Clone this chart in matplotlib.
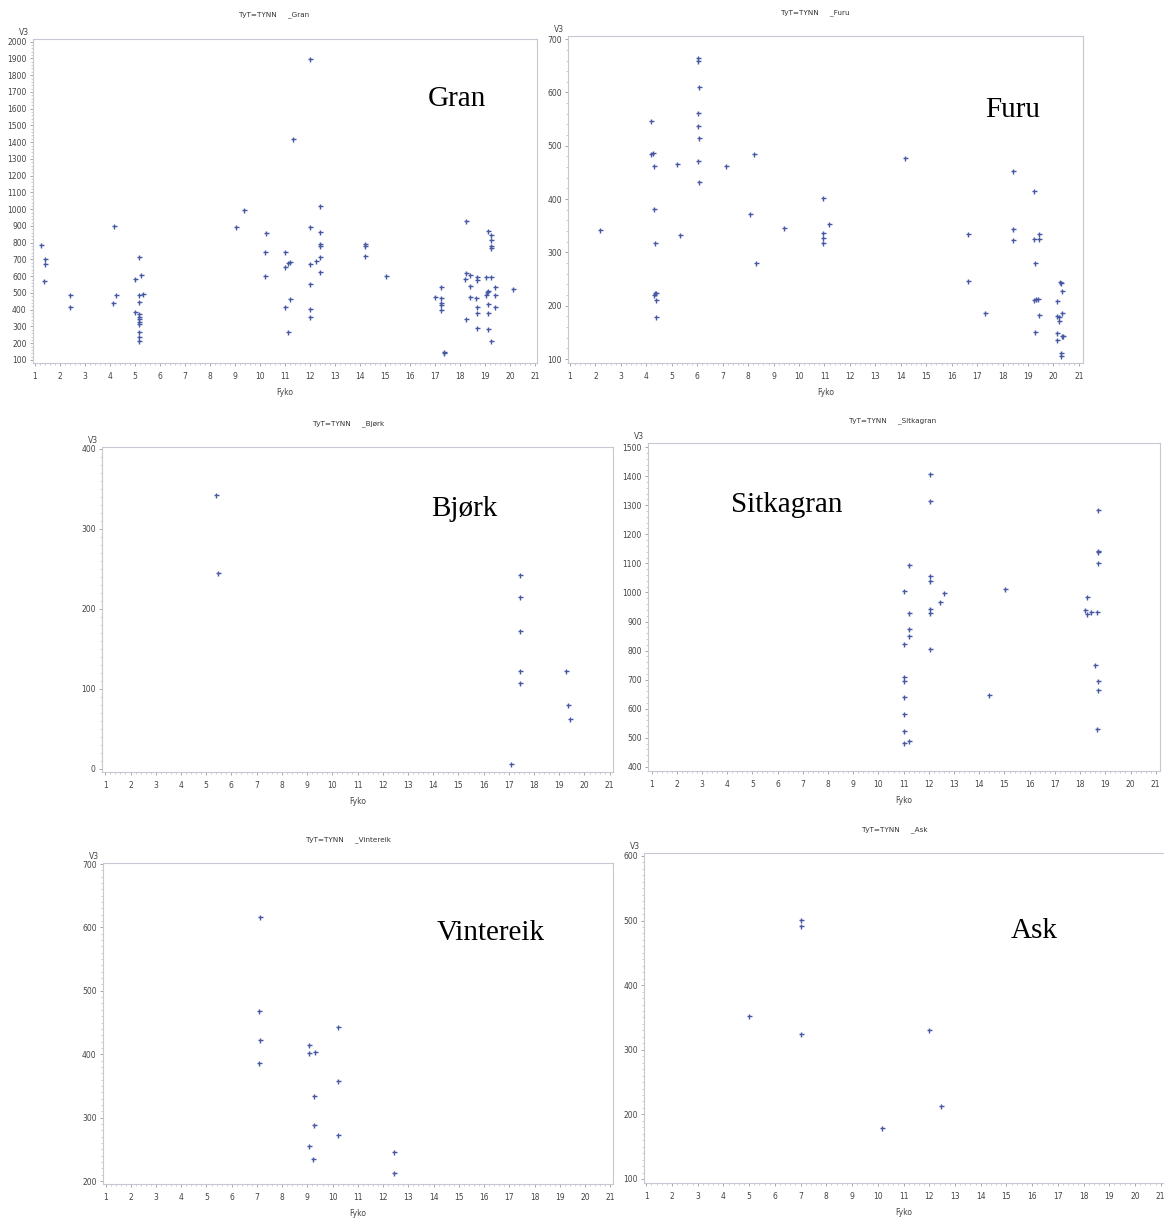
import matplotlib
matplotlib.use('Agg')
from matplotlib import pyplot as plt
from matplotlib.ticker import MultipleLocator

W, H = 1168, 1220
MARK = '#4658a4'
GREY = '#444444'

# --- data (Fyko, V3) ---
gran_x = [1.25, 1.4, 1.4, 1.37, 2.4, 2.4, 4.15, 4.23, 4.14,
          5.18, 5.0, 5.24, 5.33, 5.16, 5.16, 5.0, 5.16, 5.16, 5.16, 5.16, 5.16, 5.16, 5.16, 5.16,
          9.06, 9.37, 10.19, 10.19, 10.26,
          11.0, 11.0, 11.12, 11.19, 11.0, 11.19, 11.12, 11.34,
          12.0, 12.0, 12.0, 12.23, 12.0, 12.0, 12.0,
          12.42, 12.42, 12.42, 12.42, 12.42, 12.42,
          14.21, 14.21, 14.21, 15.04,
          17.01, 17.24, 17.24, 17.24, 17.24, 17.24, 17.36, 17.36,
          18.26, 18.23, 18.2, 18.41, 18.41, 18.41, 18.23, 18.66, 18.69, 18.69, 18.7, 18.7, 18.7,
          19.05, 19.24, 19.14, 19.25, 19.24, 19.24, 19.24, 19.04, 19.1, 19.14, 19.14, 19.14,
          19.14, 19.24, 19.4, 19.4, 19.4, 20.13]
gran_y = [785, 700, 675, 571, 490, 418, 900, 490, 438,
          715, 581, 609, 492, 486, 448, 388, 375, 359, 343, 329, 315, 269, 235, 215,
          892, 997, 742, 599, 860,
          747, 653, 681, 687, 414, 466, 269, 1419,
          1899, 896, 671, 691, 552, 404, 357,
          1021, 866, 792, 782, 717, 623,
          790, 780, 719, 599,
          474, 534, 472, 438, 426, 400, 148, 140,
          932, 617, 585, 605, 542, 476, 345, 472, 593, 577, 414, 378, 293,
          597, 597, 872, 846, 816, 782, 766, 488, 504, 512, 432, 383,
          283, 215, 538, 488, 416, 522]

furu_x = [2.18, 4.19, 4.19, 4.27, 4.3, 4.3, 4.33, 4.33, 4.39, 4.3, 4.39, 4.39,
          5.21, 5.33, 6.03, 6.03, 6.06, 6.03, 6.03, 6.06, 6.03, 6.06,
          7.13, 8.22, 8.07, 8.31, 9.39, 10.96, 11.19, 10.96, 10.96, 10.96,
          14.18, 16.63, 16.63, 17.3, 18.39, 18.39, 18.39,
          19.25, 19.22, 19.44, 19.44, 19.26, 19.22, 19.31, 19.38, 19.43, 19.26,
          20.25, 20.3, 20.34, 20.15, 20.15, 20.22, 20.2, 20.34, 20.15, 20.33, 20.38, 20.15, 20.28, 20.28]
furu_y = [342, 546, 485, 487, 463, 381, 317, 224, 224, 221, 210, 178,
          466, 332, 664, 659, 611, 562, 537, 515, 472, 432,
          463, 484, 372, 281, 346, 403, 353, 336, 327, 317,
          477, 335, 246, 187, 452, 344, 324,
          416, 325, 325, 334, 281, 211, 213, 212, 182, 150,
          244, 243, 228, 209, 180, 179, 172, 187, 149, 144, 144, 135, 112, 105]

bjork_x = [5.4, 5.47, 17.46, 17.43, 17.46, 17.43, 17.46, 17.09, 19.27, 19.36, 19.41]
bjork_y = [343, 245, 243, 215, 172, 123, 107, 6, 123, 80, 63]

sitka_x = [11.01, 11.01, 11.01, 11.01, 11.01, 11.01, 11.01, 11.01,
           11.21, 11.21, 11.21, 11.21, 11.21,
           12.03, 12.03, 12.03, 12.03, 12.03, 12.03, 12.03, 12.45, 12.6,
           14.4, 15.03, 18.27, 18.2, 18.27, 18.42, 18.67,
           18.7, 18.7, 18.72, 18.7, 18.6, 18.72, 18.7, 18.67]
sitka_y = [1004, 822, 709, 695, 642, 582, 522, 481,
           1094, 929, 876, 849, 490,
           1407, 1314, 1056, 1041, 942, 928, 805, 968, 999,
           649, 1013, 983, 941, 925, 933, 932,
           1284, 1140, 1141, 1102, 751, 697, 665, 529]

vinter_x = [7.13, 7.07, 7.13, 7.07, 9.05, 9.05, 9.29, 9.28, 9.28, 9.05, 9.21,
            10.2, 10.2, 10.2, 12.42, 12.42]
vinter_y = [616, 468, 423, 386, 414, 402, 404, 334, 289, 256, 234,
            443, 357, 272, 246, 212]

ask_x = [5.01, 7.02, 7.02, 7.02, 10.18, 12.0, 12.45]
ask_y = [352, 501, 491, 324, 179, 331, 213]

x_ticks = list(range(1, 22))

# name, data, axes box in px (l, t, r, b), xlim, ylim, y step, y minor, title centre, label centre
panels = [
    ('Gran', gran_x, gran_y, (33, 39, 537, 363), (0.93, 21.08), (82, 2016), 100, 20, (274, 15), (457, 99)),
    ('Furu', furu_x, furu_y, (568, 36, 1083, 363), (0.92, 21.16), (92.5, 706), 100, 20, (815, 13), (1013, 110)),
    ('Bjørk', bjork_x, bjork_y, (102, 447, 613, 772), (0.87, 21.13), (-3.75, 402.5), 100, 10, (349, 424), (464, 509)),
    ('Sitkagran', sitka_x, sitka_y, (648, 443, 1160, 771), (0.86, 21.17), (386, 1514), 100, 20, (893, 421), (787, 505)),
    ('Vintereik', vinter_x, vinter_y, (103, 863, 613, 1184), (0.9, 21.11), (195.3, 701.6), 100, 10, (349, 840), (491, 933)),
    ('Ask', ask_x, ask_y, (644, 853, 1163, 1183), (0.91, 21.09), (93.8, 604.6), 100, 10, (895, 830), (1034, 931)),
]

fig = plt.figure(figsize=(W / 100, H / 100), dpi=100)

for name, xs, ys, box, xlim, ylim, ystep, yminor, title_at, label_at in panels:
    l, t, r, b = box
    ax = fig.add_axes([l / W, 1 - b / H, (r - l) / W, (b - t) / H])
    ax.plot(xs, ys, linestyle='none', marker='+', markersize=3.6,
            markeredgewidth=1.0, color=MARK)
    ax.set_xlim(*xlim)
    ax.set_ylim(*ylim)
    ax.set_xticks(x_ticks)
    ax.xaxis.set_minor_locator(MultipleLocator(0.2))
    ax.yaxis.set_major_locator(MultipleLocator(ystep))
    ax.yaxis.set_minor_locator(MultipleLocator(yminor))
    ax.tick_params(which='major', length=2.5, width=0.6, color='#999999',
                   labelsize=5.5, labelcolor=GREY, pad=2)
    ax.tick_params(which='minor', length=1.5, width=0.5, color='#bbbbbb')
    ax.tick_params(axis='x', pad=4)
    for s in ax.spines.values():
        s.set_color('#c8c8d4')
        s.set_linewidth(0.8)
    if name == 'Ask':
        ax.spines['right'].set_visible(False)

    ax.annotate('V3', xy=(0, 1), xycoords='axes fraction', xytext=(-3, 1.5),
                textcoords='offset points', ha='right', va='bottom',
                fontsize=5.5, color=GREY)
    ax.annotate('Fyko', xy=(0.5, 0), xycoords='axes fraction', xytext=(0, -21),
                textcoords='offset points', ha='center', va='center',
                fontsize=5.5, color=GREY)

    fig.text(title_at[0] / W, 1 - title_at[1] / H, 'TyT=TYNN     _' + name,
             ha='center', va='center', fontsize=5.2, color='#333333')
    fig.text(label_at[0] / W, 1 - label_at[1] / H, name, ha='center', va='center',
             fontsize=21, family='Liberation Serif', color='black')

fig.savefig('out.png', dpi=100)
